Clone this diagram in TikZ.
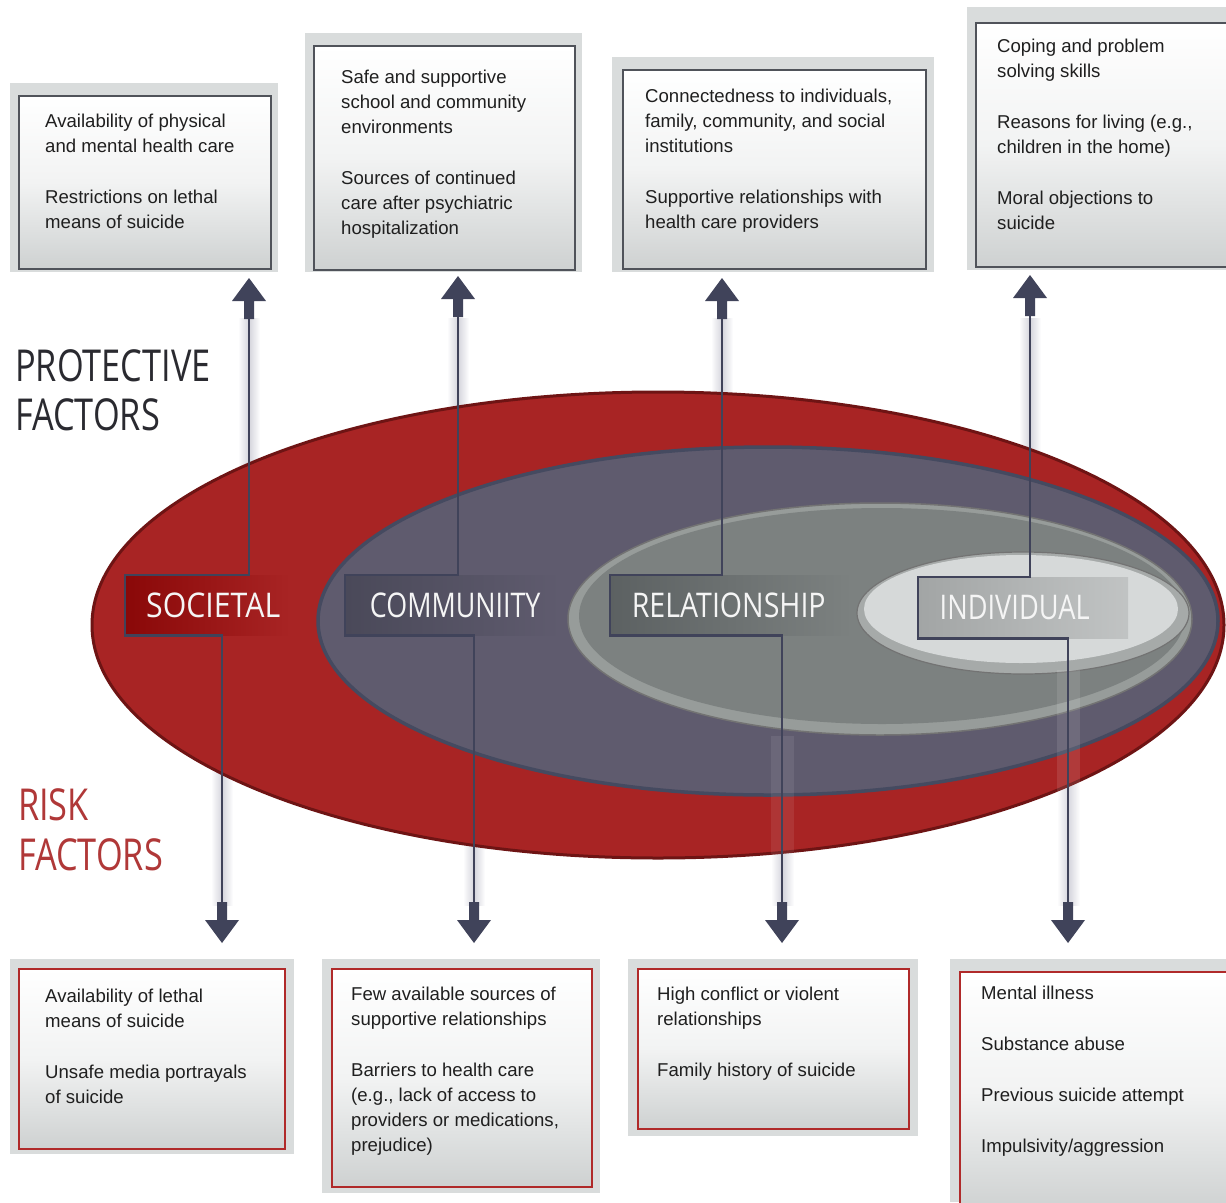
\documentclass[tikz,border=0pt]{standalone}
\usepackage{fontspec}
\usepackage{graphicx}
\setmainfont{Liberation Sans}
\newfontfamily\lblfont{Open Sans}
\definecolor{redE}{HTML}{A82424}
\definecolor{redEdge}{HTML}{6E1414}
\definecolor{comE}{HTML}{5F5B6E}
\definecolor{comEdge}{HTML}{454A60}
\definecolor{relE}{HTML}{7C8180}
\definecolor{relRing}{HTML}{979C9A}
\definecolor{indE}{HTML}{D6D9D9}
\definecolor{indRing}{HTML}{A6AAA9}
\definecolor{connC}{HTML}{40435A}
\definecolor{frameC}{HTML}{D9DCDC}
\definecolor{boxBot}{HTML}{CED1D1}
\definecolor{boxMid}{HTML}{F2F3F3}
\definecolor{pBorder}{HTML}{50535A}
\definecolor{rBorder}{HTML}{B02A2A}
\definecolor{socL}{HTML}{8A0808}
\definecolor{comL}{HTML}{4A4959}
\definecolor{relL}{HTML}{5C6162}
\definecolor{indL}{HTML}{A2A5A5}
\definecolor{riskC}{HTML}{B03838}
\definecolor{protC}{HTML}{2A2A30}
\definecolor{glowC}{HTML}{D4D4DC}
\newcommand\myUpHead[1]{\fill[connC] (#1) -- ++(17,23) -- ++(-12,0) -- ++(0,18) -- ++(-10,0) -- ++(0,-18) -- ++(-12,0) -- cycle;}
\newcommand\myDnHead[1]{\fill[connC] (#1) -- ++(17,-23) -- ++(-12,0) -- ++(0,-18) -- ++(-10,0) -- ++(0,18) -- ++(-12,0) -- cycle;}
\begin{document}
\begin{tikzpicture}[x=1pt,y=-1pt,
  frame/.style={fill=frameC},
  pbox/.style={draw=pBorder, line width=1.6pt, top color=white, bottom color=boxBot, middle color=boxMid, anchor=north west, inner sep=0pt},
  rbox/.style={draw=rBorder, line width=1.6pt, top color=white, bottom color=boxBot, middle color=boxMid, anchor=north west, inner sep=0pt},
  btext/.style={anchor=north west, inner sep=0pt, align=left, text=black!88, font=\fontsize{18.6}{25}\selectfont},
  lbl/.style={anchor=north west, inner sep=0pt, minimum height=60pt, text=white!96!black, font=\lblfont\fontsize{34}{34}\selectfont},
  conn/.style={draw=connC, line width=2.5pt},
  glow/.style={left color=white, right color=white, middle color=glowC},
  bigword/.style={anchor=base west, inner sep=0pt, font=\lblfont\fontsize{44}{44}\selectfont}
]
\useasboundingbox (0,0) rectangle (1226,1202);
\fill[white] (0,0) rectangle (1226,1202);

% glow bands behind connectors
\shade[glow] (238,318) rectangle (260,600);
\shade[glow] (447,318) rectangle (469,600);
\shade[glow] (711,318) rectangle (733,600);
\shade[glow] (1019,318) rectangle (1041,600);
\shade[glow] (211,640) rectangle (233,905);
\shade[glow] (463,640) rectangle (485,905);
\shade[glow] (771,640) rectangle (794,905);
\shade[glow] (1057,640) rectangle (1080,905);

% ellipses
\fill[redE, draw=redEdge, line width=3pt] (658,625) ellipse [x radius=566, y radius=233];
\fill[comE, draw=comEdge, line width=3.5pt] (768,621) ellipse [x radius=450, y radius=174];
\fill[relRing, draw=black!55, line width=1.5pt] (880,619) ellipse [x radius=312, y radius=116];
\fill[relE] (882,616) ellipse [x radius=303, y radius=108];
\fill[indRing, draw=black!55, line width=1.2pt] (1023,613) ellipse [x radius=166, y radius=61];
\fill[indE] (1021,609) ellipse [x radius=157, y radius=54];

% lighter strips over ellipses
\fill[white, opacity=0.08] (771,736) rectangle (794,860);
\fill[white, opacity=0.10] (1057,670) rectangle (1080,860);

% level labels
\node[lbl, minimum width=165pt, left color=socL, right color=redE] (soc) at (125,575) {\kern11pt\scalebox{0.89}[1]{SOCIETAL}};
\node[lbl, minimum width=215pt, left color=comL, right color=comE] (com) at (345,575) {\kern5pt\scalebox{0.79}[1]{COMMUNIITY}};
\node[lbl, minimum width=242pt, left color=relL, right color=relE] (rel) at (610,575) {\scalebox{0.84}[1]{RELATIONSHIP}\kern5pt};
\node[lbl, minimum width=210pt, minimum height=61pt, left color=indL, right color=indE!90!black] (ind) at (918,577) {\scalebox{0.80}[1]{INDIVIDUAL}\kern17pt};

% connector end points
\coordinate (socUp) at (249,318); \coordinate (socDn) at (222,902);
\coordinate (comUp) at (458,315); \coordinate (comDn) at (474,902);
\coordinate (relUp) at (722,317); \coordinate (relDn) at (782,902);
\coordinate (indUp) at (1030,314); \coordinate (indDn) at (1068,902);

\draw[conn] (socUp) |- (soc.north west) -- (soc.south west) -| (socDn);
\draw[conn] (comUp) |- (com.north west) -- (com.south west) -| (comDn);
\draw[conn] (relUp) |- (rel.north west) -- (rel.south west) -| (relDn);
\draw[conn] (indUp) |- (ind.north west) -- (ind.south west) -| (indDn);

\myUpHead{249,278}
\myUpHead{458,276}
\myUpHead{722,278}
\myUpHead{1030,275}
\myDnHead{222,943}
\myDnHead{474,943}
\myDnHead{782,943}
\myDnHead{1068,943}

% protective boxes
\fill[frameC] (10,83) rectangle (278,272);
\node[pbox, minimum width=252pt, minimum height=173pt] (p1) at (18,95) {};
\fill[frameC] (305,33) rectangle (582,272);
\node[pbox, minimum width=261pt, minimum height=224pt] (p2) at (313,45) {};
\fill[frameC] (612,57) rectangle (934,272);
\node[pbox, minimum width=303pt, minimum height=199pt] (p3) at (622,69) {};
\fill[frameC] (967,7) rectangle (1226,270);
\node[pbox, minimum width=262pt, minimum height=244pt] (p4) at (975,22) {};

\node[btext] (p1t) at (45,114) {Availability of physical\\and mental health care\\[26pt]Restrictions on lethal\\means of suicide};
\node[btext] (p2t) at (341,70) {Safe and supportive\\school and community\\environments\\[26pt]Sources of continued\\care after psychiatric\\hospitalization};
\node[btext] (p3t) at (645,89) {Connectedness to individuals,\\family, community, and social\\institutions\\[26pt]Supportive relationships with\\health care providers};
\node[btext] (p4t) at (997,39) {Coping and problem\\solving skills\\[26pt]Reasons for living (e.g.,\\children in the home)\\[26pt]Moral objections to\\suicide};

% risk boxes
\fill[frameC] (10,959) rectangle (294,1154);
\node[rbox, minimum width=266pt, minimum height=180pt] (r1) at (18,968) {};
\fill[frameC] (322,959) rectangle (600,1193);
\node[rbox, minimum width=260pt, minimum height=218pt] (r2) at (331,968) {};
\fill[frameC] (628,959) rectangle (918,1136);
\node[rbox, minimum width=271pt, minimum height=160pt] (r3) at (637,968) {};
\fill[frameC] (950,959) rectangle (1226,1202);
\node[rbox, minimum width=280pt, minimum height=240pt] (r4) at (959,971) {};

\node[btext] (r1t) at (45,989) {Availability of lethal\\means of suicide\\[26pt]Unsafe media portrayals\\of suicide};
\node[btext] (r2t) at (351,987) {Few available sources of\\supportive relationships\\[26pt]Barriers to health care\\(e.g., lack of access to\\providers or medications,\\prejudice)};
\node[btext] (r3t) at (657,987) {High conflict or violent\\relationships\\[26pt]Family history of suicide};
\node[btext] (r4t) at (981,986) {Mental illness\\[26pt]Substance abuse\\[26pt]Previous suicide attempt\\[26pt]Impulsivity/aggression};

% side titles
\node[bigword, text=protC] (prot1) at (15,381) {\scalebox{0.78}[1]{PROTECTIVE}};
\node[bigword, text=protC] (prot2) at (15,430) {\scalebox{0.78}[1]{FACTORS}};
\node[bigword, text=riskC] (risk1) at (18,820) {\scalebox{0.78}[1]{RISK}};
\node[bigword, text=riskC] (risk2) at (18,870) {\scalebox{0.78}[1]{FACTORS}};
\end{tikzpicture}
\end{document}
